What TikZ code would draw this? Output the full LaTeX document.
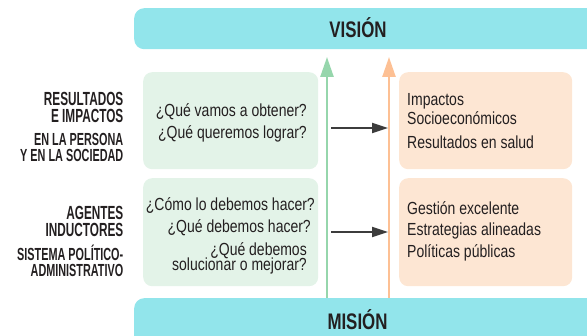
\documentclass[tikz,border=0pt]{standalone}
\usepackage{fontspec}
\setmainfont{Liberation Sans}
\newfontfamily\bodyf{Liberation Sans}[FakeStretch=0.80]
\newfontfamily\labf{Liberation Sans}[FakeStretch=0.62]
\newfontfamily\titf{Liberation Sans}[FakeStretch=0.75]
\usetikzlibrary{arrows.meta}
\definecolor{barc}{RGB}{146,229,235}
\definecolor{gboxc}{RGB}{227,243,232}
\definecolor{oboxc}{RGB}{253,230,211}
\definecolor{garc}{RGB}{150,214,172}
\definecolor{oarc}{RGB}{253,192,148}
\definecolor{txt}{RGB}{35,31,32}
\definecolor{blk}{RGB}{60,60,60}
\tikzset{
  bar/.style={fill=barc, draw=none, rounded corners=10pt, inner sep=0pt},
  gbox/.style={fill=gboxc, draw=none, rounded corners=9pt, inner sep=0pt, anchor=north west},
  obox/.style={fill=oboxc, draw=none, rounded corners=9pt, inner sep=0pt, anchor=north west},
  title/.style={font=\titf\bfseries\fontsize{22.5}{22.5}\selectfont, text=txt, inner sep=0pt, anchor=base},
  biglab/.style={font=\labf\bfseries\fontsize{19}{19}\selectfont, text=txt, inner sep=0pt, anchor=base east},
  smalllab/.style={font=\labf\bfseries\fontsize{17.5}{17.5}\selectfont, text=txt, inner sep=0pt, anchor=base east},
  bodyr/.style={font=\bodyf\fontsize{17.5}{17.5}\selectfont, text=txt, inner sep=0pt, anchor=base east},
  bodyl/.style={font=\bodyf\fontsize{17.5}{17.5}\selectfont, text=txt, inner sep=0pt, anchor=base west},
  garrow/.style={draw=garc, line width=2.5pt, -{Triangle[length=20pt,width=13pt]}},
  oarrow/.style={draw=oarc, line width=2.5pt, -{Triangle[length=20pt,width=13pt]}},
  karrow/.style={draw=blk, line width=2pt, -{Triangle[length=16pt,width=10pt]}},
}
\begin{document}
\begin{tikzpicture}[x=1pt, y=-1pt]
\useasboundingbox (0,0) rectangle (587,336);
% bars
\node[bar, anchor=north west, minimum width=470pt, minimum height=41pt] (vision) at (134,8) {};
\node[bar, anchor=north west, minimum width=470pt, minimum height=52pt] (mision) at (134,298) {};
\node[title] (visiont) at (358,37.3) {VISIÓN};
\node[title] (misiont) at (357.5,329.3) {MISIÓN};
% boxes
\node[gbox, minimum width=175pt, minimum height=97pt] (gtop) at (143,72) {};
\node[gbox, minimum width=175pt, minimum height=108pt] (gbot) at (143,178) {};
\node[obox, minimum width=173pt, minimum height=97pt] (otop) at (399,72) {};
\node[obox, minimum width=173pt, minimum height=108pt] (obot) at (399,178) {};
% vertical arrows
\coordinate (gtip) at (327,57);
\coordinate (otip) at (389,57);
\draw[garrow] (gtip |- mision.north) -- (gtip);
\draw[oarrow] (otip |- mision.north) -- (otip);
% horizontal arrows
\coordinate (k1s) at (331,128);
\coordinate (k1e) at (388,128);
\coordinate (k2s) at (331,232);
\coordinate (k2e) at (388,232);
\draw[karrow] (k1s) -- (k1e);
\draw[karrow] (k2s) -- (k2e);
% left labels
\node[biglab] (l1) at (123.5,106) {RESULTADOS};
\node[biglab] (l2) at (123.5,123) {E IMPACTOS};
\node[smalllab] (l3) at (123.5,146) {EN LA PERSONA};
\node[smalllab] (l4) at (123.5,161.5) {Y EN LA SOCIEDAD};
\node[biglab] (l5) at (123.5,220) {AGENTES};
\node[biglab] (l6) at (123.5,237) {INDUCTORES};
\node[smalllab] (l7) at (123.5,261) {SISTEMA POLÍTICO-};
\node[smalllab] (l8) at (123.5,277) {ADMINISTRATIVO};
% green texts
\node[bodyr] (g1) at (307,116.5) {¿Qué vamos a obtener?};
\node[bodyr] (g2) at (307,139) {¿Qué queremos lograr?};
\node[bodyr] (g3) at (315,210.5) {¿Cómo lo debemos hacer?};
\node[bodyr] (g4) at (311,232.5) {¿Qué debemos hacer?};
\node[bodyr] (g5) at (307,256) {¿Qué debemos};
\node[bodyr] (g6) at (307,271) {solucionar o mejorar?};
% orange texts
\node[bodyl] (o1) at (407,106) {Impactos};
\node[bodyl] (o2) at (407,124.5) {Socioeconómicos};
\node[bodyl] (o3) at (407,148.5) {Resultados en salud};
\node[bodyl] (o4) at (407,215) {Gestión excelente};
\node[bodyl] (o5) at (407,236) {Estrategias alineadas};
\node[bodyl] (o6) at (407,258) {Políticas públicas};
\end{tikzpicture}
\end{document}
